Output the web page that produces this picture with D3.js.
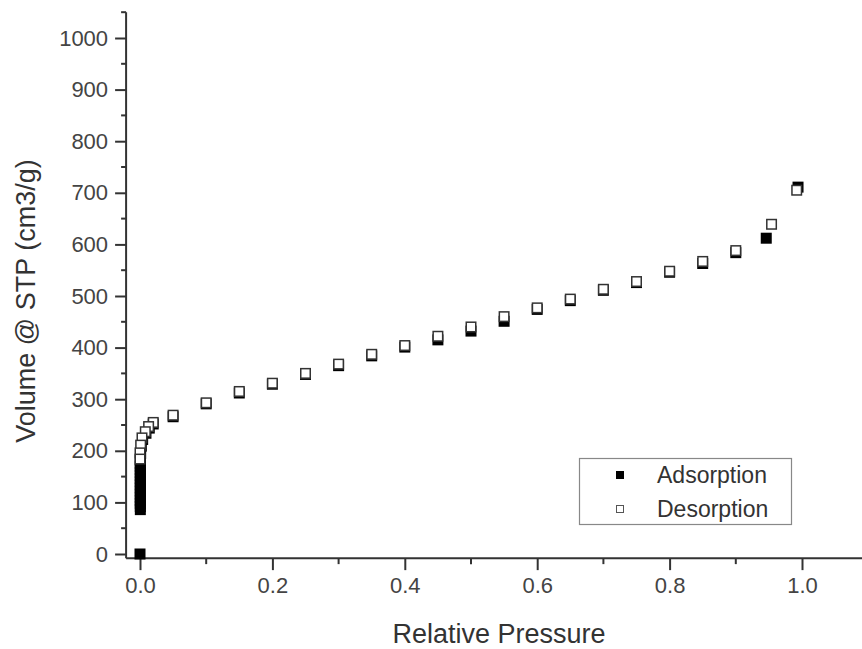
<!DOCTYPE html>
<html>
<head>
<meta charset="utf-8">
<script src="https://cdn.jsdelivr.net/npm/d3@7"></script>
<style>
  body { margin: 0; background: #fff; }
  svg { display: block; font-family: "Liberation Sans", Arial, sans-serif; }
</style>
</head>
<body>
<div id="chart"></div>
<script>
const width = 862;
const height = 649;

// adsorption branch (filled squares)
const adsP = [0.0, 0.0005, 0.0005, 0.0005, 0.0005, 0.0005, 0.0005, 0.0005, 0.0005, 0.0005, 0.0005, 0.0005, 0.0005, 0.0005, 0.0005, 0.0005, 0.0005,
  0.0005, 0.001, 0.002, 0.004, 0.009, 0.014, 0.02, 0.05, 0.1, 0.15, 0.2, 0.25, 0.3, 0.35, 0.4, 0.45, 0.5, 0.55, 0.6, 0.65, 0.7, 0.75, 0.8, 0.85, 0.9, 0.946, 0.994];
const adsV = [0, 86, 92, 98, 104, 110, 116, 122, 128, 134, 140, 146, 152, 158, 164, 170, 175,
  182, 195, 209, 222, 234, 244, 252, 266, 291, 312, 329, 348, 365, 384, 401, 415, 432, 451, 474, 491, 511, 526, 546, 563, 584, 612, 711];

// desorption branch (open squares)
const desP = [0.992, 0.954, 0.9, 0.85, 0.8, 0.75, 0.7, 0.65, 0.6, 0.55, 0.5, 0.45, 0.4, 0.35, 0.3, 0.25, 0.2, 0.15, 0.1, 0.05,
  0.02, 0.013, 0.008, 0.003, 0.001, 0.0, 0.0];
const desV = [705, 639, 588, 567, 548, 528, 513, 494, 477, 460, 440, 422, 404, 387, 368, 350, 331, 315, 293, 269,
  255, 247, 237, 225, 211, 196, 184];

const xMajor = [0.0, 0.2, 0.4, 0.6, 0.8, 1.0];
const xMinor = [0.1, 0.3, 0.5, 0.7, 0.9];
const yMajor = [0, 100, 200, 300, 400, 500, 600, 700, 800, 900, 1000];
const yMinor = [50, 150, 250, 350, 450, 550, 650, 750, 850, 950, 1050];

const seriesNames = ["Adsorption", "Desorption"];

let svg = d3.select("#chart").append("svg")
    .attr("width", width)
    .attr("height", height);

let x = d3.scaleLinear()
    .domain([0, 1])
    .range([140, 802]);

let y = d3.scaleLinear()
    .domain([0, 1000])
    .range([554, 38]);

const xLeft = x(-0.021);
const yBottom = y(-8);
const yTop = y(1050);
const axisColor = "#333";
const tickColor = "#444";

// x axis
let xAxis = svg.append("g")
    .attr("transform", `translate(0,${yBottom})`);
xAxis.call(d3.axisBottom(x)
    .tickValues(xMajor)
    .tickSize(12)
    .tickPadding(7)
    .tickFormat(d3.format(".1f")));
xAxis.select(".domain").remove();
xAxis.append("line")
    .attr("x1", xLeft).attr("x2", width + 10)
    .attr("stroke", axisColor).attr("stroke-width", 2);
xAxis.selectAll(".tick line").attr("stroke", axisColor).attr("stroke-width", 2);
xAxis.selectAll(".tick text")
    .attr("fill", tickColor)
    .style("font-size", "22px")
    .style("font-family", "Liberation Sans, Arial, sans-serif");
xAxis.selectAll(".minor")
    .data(xMinor)
    .enter().append("line")
    .attr("x1", d => x(d)).attr("x2", d => x(d))
    .attr("y1", 0).attr("y2", 6)
    .attr("stroke", axisColor).attr("stroke-width", 2);

// y axis
let yAxis = svg.append("g")
    .attr("transform", `translate(${xLeft},0)`);
yAxis.call(d3.axisLeft(y)
    .tickValues(yMajor)
    .tickSize(11)
    .tickPadding(7)
    .tickFormat(d3.format("d")));
yAxis.select(".domain").remove();
yAxis.append("line")
    .attr("y1", yTop).attr("y2", yBottom)
    .attr("stroke", axisColor).attr("stroke-width", 2);
yAxis.selectAll(".tick line").attr("stroke", axisColor).attr("stroke-width", 2);
yAxis.selectAll(".tick text")
    .attr("fill", tickColor)
    .style("font-size", "22px")
    .style("font-family", "Liberation Sans, Arial, sans-serif");
yAxis.selectAll(".minor")
    .data(yMinor)
    .enter().append("line")
    .attr("x1", -5).attr("x2", 0)
    .attr("y1", d => y(d)).attr("y2", d => y(d))
    .attr("stroke", axisColor).attr("stroke-width", 2);

// axis titles
svg.append("text")
    .attr("x", 499)
    .attr("y", 643)
    .attr("text-anchor", "middle")
    .attr("fill", axisColor)
    .style("font-size", "27px")
    .text("Relative Pressure");

svg.append("text")
    .attr("transform", "translate(35,301) rotate(-90)")
    .attr("text-anchor", "middle")
    .attr("fill", axisColor)
    .style("font-size", "27px")
    .text("Volume @ STP (cm3/g)");

// points
const size = 11;
const ads = adsP.map((p, i) => ({p: p, v: adsV[i]}));
const des = desP.map((p, i) => ({p: p, v: desV[i]}));

svg.append("g").selectAll("rect")
    .data(ads)
    .enter().append("rect")
    .attr("x", d => x(d.p) - size / 2)
    .attr("y", d => y(d.v) - size / 2)
    .attr("width", size)
    .attr("height", size)
    .attr("fill", "#000");

svg.append("g").selectAll("rect")
    .data(des)
    .enter().append("rect")
    .attr("x", d => x(d.p) - size / 2 + 0.75)
    .attr("y", d => y(d.v) - size / 2 + 0.75)
    .attr("width", size - 1.5)
    .attr("height", size - 1.5)
    .attr("fill", "#fff")
    .attr("stroke", "#333")
    .attr("stroke-width", 1.5);

// legend
let legend = svg.append("g");
legend.append("rect")
    .attr("x", 579.5).attr("y", 458.5)
    .attr("width", 212).attr("height", 66)
    .attr("fill", "#fff")
    .attr("stroke", "#888")
    .attr("stroke-width", 1.2);

seriesNames.forEach((name, i) => {
    const cy = 475 + i * 34;
    if (i === 0) {
        legend.append("rect")
            .attr("x", 616).attr("y", cy - 4)
            .attr("width", 8).attr("height", 8)
            .attr("fill", "#000");
    } else {
        legend.append("rect")
            .attr("x", 616.5).attr("y", cy - 3.5)
            .attr("width", 7).attr("height", 7)
            .attr("fill", "#fff")
            .attr("stroke", "#555")
            .attr("stroke-width", 1);
    }
    legend.append("text")
        .attr("x", 657)
        .attr("y", cy + 8)
        .attr("fill", axisColor)
        .style("font-size", "23px")
        .text(name);
});
</script>
</body>
</html>
